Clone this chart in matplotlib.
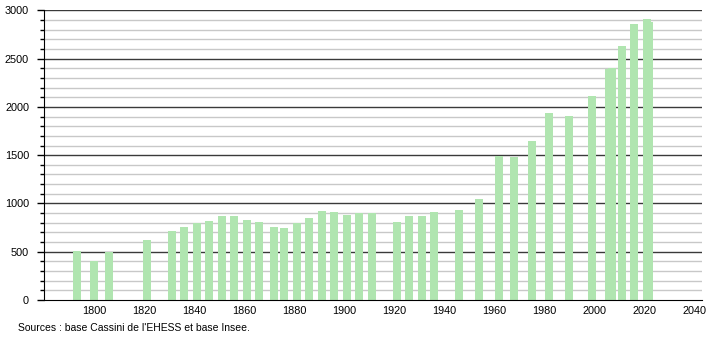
import numpy as np
import matplotlib
matplotlib.use("Agg")
import matplotlib.pyplot as plt
from matplotlib.ticker import MultipleLocator

plt.rcParams['font.family'] = ['Liberation Sans', 'DejaVu Sans']

# population par recensement
annees = [1793, 1800, 1806, 1821, 1831, 1836, 1841, 1846, 1851, 1856, 1861, 1866,
          1872, 1876, 1881, 1886, 1891, 1896, 1901, 1906, 1911, 1921, 1926, 1931,
          1936, 1946, 1954, 1962, 1968, 1975, 1982, 1990, 1999, 2006, 2007, 2011,
          2016, 2021, 2022]
population = [507, 403, 496, 620, 713, 758, 793, 820, 872, 872, 830, 810,
              758, 745, 793, 848, 920, 910, 879, 896, 896, 807, 869, 869,
              910, 931, 1044, 1489, 1479, 1644, 1934, 1903, 2110, 2395, 2400, 2628,
              2855, 2914, 2880]
xticks = list(range(1800, 2041, 20))
source = "Sources : base Cassini de l'EHESS et base Insee."

fig = plt.figure(figsize=(7.1, 3.4), dpi=100)
ax = fig.add_axes([0.0624, 0.1176, 0.9263, 0.8521])

ax.set_xlim(1780, 2043)
ax.set_ylim(0, 3000)

# grille : fine tous les 100, foncée tous les 500
for y in range(100, 3001, 100):
    if y % 500 == 0:
        ax.axhline(y, color='#3a3a3a', lw=1.0, zorder=1)
    else:
        ax.axhline(y, color='#c8c8c8', lw=1.0, zorder=1)

ax.bar(annees, population, width=3.2, color='#b0e5b0', zorder=2)

ax.yaxis.set_major_locator(MultipleLocator(500))
ax.yaxis.set_minor_locator(MultipleLocator(100))
ax.set_xticks(xticks)
ax.tick_params(axis='y', which='major', length=5, width=1, labelsize=7.8, pad=6)
ax.tick_params(axis='y', which='minor', length=3, width=1)
ax.tick_params(axis='x', length=0, labelsize=7.8, pad=4)

for s in ['top', 'right']:
    ax.spines[s].set_visible(False)
ax.spines['left'].set_color('black')
ax.spines['bottom'].set_color('black')
ax.spines['left'].set_zorder(3)
ax.spines['bottom'].set_zorder(3)

fig.text(18 / 710, 1 - 328 / 340, source, fontsize=7.5, va='center', ha='left')

fig.savefig('out.png', dpi=100)
